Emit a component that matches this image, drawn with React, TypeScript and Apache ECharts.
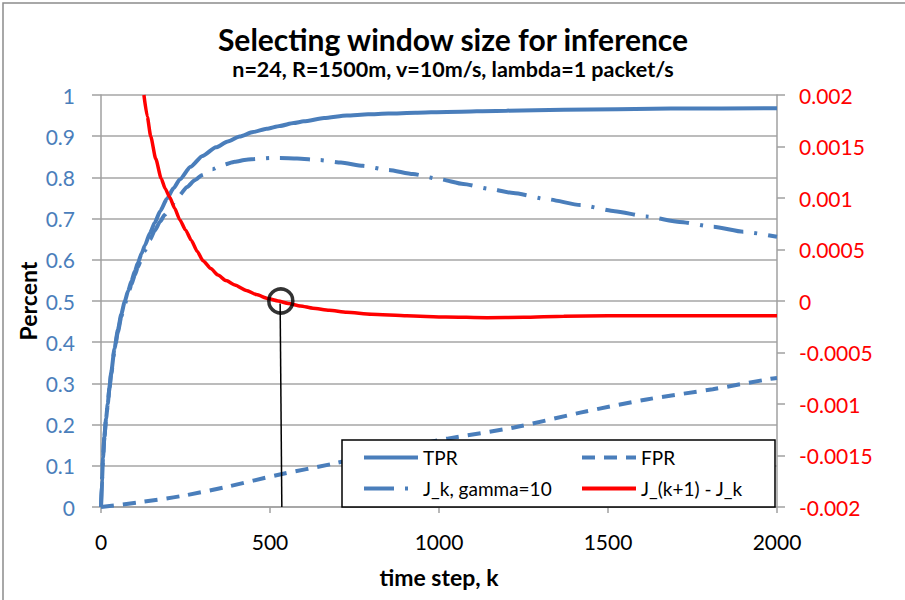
import React, { useEffect, useRef } from "react";
import * as echarts from "echarts";

const titleText = "Selecting window size for inference";
const subtitleText = "n=24, R=1500m, v=10m/s, lambda=1 packet/s";
const xName = "time step, k";
const yName = "Percent";

const seriesNames = ["TPR", "FPR", "J_k, gamma=10", "J_(k+1) - J_k"];

const tprK = [0, 3, 6, 10, 15, 20, 25, 30, 40, 50, 60, 70, 80, 90, 100, 109, 120, 130, 145, 159, 175, 195, 215, 233, 265, 300, 340, 375, 410, 450, 490, 529, 570, 600, 660, 727, 790, 850, 930, 1023, 1200, 1369, 1686, 2000];
const tprV = [0, 0.065, 0.12, 0.17, 0.215, 0.25, 0.29, 0.325, 0.385, 0.43, 0.468, 0.498, 0.524, 0.548, 0.572, 0.592, 0.615, 0.635, 0.665, 0.69, 0.718, 0.748, 0.774, 0.795, 0.826, 0.852, 0.873, 0.887, 0.899, 0.91, 0.918, 0.925, 0.932, 0.936, 0.944, 0.95, 0.953, 0.955, 0.957, 0.959, 0.962, 0.964, 0.967, 0.968];

const fprK = [0, 110, 241, 372, 529, 686, 895, 1025, 1222, 1418, 1614, 1810, 1980, 2000];
const fprV = [0, 0.011, 0.027, 0.049, 0.079, 0.105, 0.144, 0.166, 0.193, 0.229, 0.261, 0.286, 0.311, 0.313];

const jK = [0, 3, 6, 10, 15, 20, 25, 30, 40, 50, 60, 70, 80, 90, 100, 109, 120, 129, 145, 159, 175, 188, 210, 230, 255, 277, 300, 330, 360, 396, 430, 460, 500, 529, 580, 648, 710, 775, 850, 923, 1000, 1072, 1150, 1220, 1320, 1418, 1520, 1614, 1712, 1812, 1900, 2000];
const jV = [0, 0.065, 0.12, 0.17, 0.214, 0.249, 0.288, 0.322, 0.381, 0.425, 0.462, 0.491, 0.517, 0.54, 0.563, 0.582, 0.603, 0.621, 0.649, 0.671, 0.693, 0.709, 0.734, 0.755, 0.777, 0.793, 0.806, 0.82, 0.83, 0.838, 0.843, 0.845, 0.847, 0.847, 0.846, 0.842, 0.836, 0.828, 0.818, 0.808, 0.796, 0.784, 0.772, 0.762, 0.747, 0.733, 0.718, 0.705, 0.692, 0.68, 0.668, 0.656];

const diffK = [127, 137, 147, 162, 178, 190, 203, 218, 233, 250, 267, 285, 302, 325, 346, 370, 396, 430, 460, 494, 524, 554, 590, 627, 675, 727, 800, 905, 1020, 1142, 1250, 1369, 1500, 1676, 1850, 2000];
const diffV = [0.002, 0.00179, 0.0016, 0.00138, 0.00119, 0.00109, 0.00101, 0.0009, 0.00079, 0.00069, 0.00059, 0.00048, 0.00039, 0.000315, 0.000252, 0.000198, 0.000156, 0.000103, 0.000062, 0.000024, 0, -0.000024, -0.000048, -0.00007, -0.00009, -0.00011, -0.000128, -0.000144, -0.000155, -0.000162, -0.000158, -0.000148, -0.000144, -0.000142, -0.000142, -0.000142];

const markerPoint = [532, 0.5];
const markerLine = [
  [530, 0.494],
  [535, 0],
];

const zip = (ks: number[], vs: number[]) => ks.map((k, i) => [k, vs[i]]);

const BLUE = "#4a7ebb";
const RED = "#ff0000";
const FONT = "Lato, 'Open Sans', sans-serif";

export default function App() {
  const ref = useRef<HTMLDivElement>(null);
  useEffect(() => {
    document.body.style.margin = "0";
    if (!ref.current) return;
    const chart = echarts.init(ref.current, undefined, { renderer: "svg" });
    const legendCommon = {
      orient: "vertical",
      top: 443,
      itemWidth: 54,
      itemHeight: 10,
      itemGap: 12,
      z: 6,
      itemStyle: { opacity: 0 },
      lineStyle: { width: 4 },
      textStyle: { fontSize: 19, color: "#000", fontFamily: FONT },
    };
    chart.setOption({
      animation: false,
      backgroundColor: "#ffffff",
      textStyle: { fontFamily: FONT },
      grid: { left: 101, right: 128, top: 95, bottom: 93, containLabel: false },
      xAxis: {
        type: "value",
        min: 0,
        max: 2000,
        interval: 500,
        axisLine: { lineStyle: { color: "#a0a0a0", width: 1.5 } },
        axisTick: { show: true, length: 6, lineStyle: { color: "#a0a0a0", width: 1.5 } },
        axisLabel: { color: "#000", fontSize: 21, margin: 24, fontFamily: FONT, formatter: (v: number) => String(v) },
        splitLine: { show: false },
      },
      yAxis: [
        {
          type: "value",
          min: 0,
          max: 1,
          interval: 0.1,
          position: "left",
          axisLine: { show: true, lineStyle: { color: "#a0a0a0", width: 1.5 } },
          axisTick: { show: true, length: 9, lineStyle: { color: "#a0a0a0", width: 1.5 } },
          axisLabel: { color: BLUE, fontSize: 21, margin: 26, fontFamily: FONT },
          splitLine: { show: true, lineStyle: { color: "#a6a6a6", width: 1.5 } },
        },
        {
          type: "value",
          min: -0.002,
          max: 0.002,
          interval: 0.0005,
          position: "right",
          axisLine: { show: true, lineStyle: { color: "#a0a0a0", width: 1.5 } },
          axisTick: { show: true, length: 8, lineStyle: { color: "#a0a0a0", width: 1.5 } },
          axisLabel: { color: RED, fontSize: 21, margin: 22, fontFamily: FONT },
          splitLine: { show: false },
        },
      ],
      legend: [
        { ...legendCommon, data: [seriesNames[0], seriesNames[2]], left: 357 },
        { ...legendCommon, data: [seriesNames[1], seriesNames[3]], left: 575 },
      ],
      graphic: [
        {
          type: "rect",
          z: -10,
          silent: true,
          shape: { x: 3, y: 3, width: 920, height: 620 },
          style: { fill: "none", stroke: "#8c8c8c", lineWidth: 1.5 },
        },
        {
          type: "rect",
          z: 5,
          silent: true,
          shape: { x: 342, y: 440, width: 433, height: 67 },
          style: { fill: "#ffffff", stroke: "#000000", lineWidth: 1.5 },
        },
        {
          type: "text",
          x: 453,
          y: 39,
          style: {
            text: titleText,
            font: `bold 30px ${FONT}`,
            fill: "#000",
            textAlign: "center",
            textVerticalAlign: "middle",
          },
        },
        {
          type: "text",
          x: 453,
          y: 69,
          style: {
            text: subtitleText,
            font: `bold 21.5px ${FONT}`,
            fill: "#000",
            textAlign: "center",
            textVerticalAlign: "middle",
          },
        },
        {
          type: "text",
          x: 439,
          y: 577,
          style: {
            text: xName,
            font: `bold 23px ${FONT}`,
            fill: "#000",
            textAlign: "center",
            textVerticalAlign: "middle",
          },
        },
        {
          type: "text",
          x: 28,
          y: 301,
          rotation: Math.PI / 2,
          style: {
            text: yName,
            font: `bold 23px ${FONT}`,
            fill: "#000",
            textAlign: "center",
            textVerticalAlign: "middle",
          },
        },
      ],
      series: [
        {
          name: seriesNames[0],
          type: "line",
          yAxisIndex: 0,
          data: zip(tprK, tprV),
          smooth: 0.2,
          smoothMonotone: "x",
          symbol: "none",
          lineStyle: { color: BLUE, width: 4 },
          itemStyle: { color: BLUE },
          z: 2,
        },
        {
          name: seriesNames[1],
          type: "line",
          yAxisIndex: 0,
          data: zip(fprK, fprV),
          smooth: 0.3,
          symbol: "none",
          lineStyle: { color: BLUE, width: 4, type: [13, 9] },
          itemStyle: { color: BLUE },
          z: 2,
        },
        {
          name: seriesNames[2],
          type: "line",
          yAxisIndex: 0,
          data: zip(jK, jV),
          smooth: 0.2,
          smoothMonotone: "x",
          symbol: "none",
          lineStyle: { color: BLUE, width: 4, type: [30, 11, 3, 11] },
          itemStyle: { color: BLUE },
          z: 2,
        },
        {
          name: seriesNames[3],
          type: "line",
          yAxisIndex: 1,
          data: zip(diffK, diffV),
          smooth: 0.2,
          smoothMonotone: "x",
          symbol: "none",
          lineStyle: { color: RED, width: 3.5 },
          itemStyle: { color: RED },
          z: 3,
        },
        {
          name: "markerLine",
          type: "line",
          yAxisIndex: 0,
          data: markerLine,
          symbol: "none",
          lineStyle: { color: "#000", width: 1.5 },
          z: 4,
        },
        {
          name: "markerCircle",
          type: "scatter",
          yAxisIndex: 0,
          data: [markerPoint],
          symbol: "circle",
          symbolSize: 24,
          itemStyle: { color: "rgba(0,0,0,0)", borderColor: "#000", borderWidth: 3.5 },
          z: 4,
        },
      ],
    });
    return () => chart.dispose();
  }, []);
  return (
    <div
      ref={ref}
      style={{ position: "fixed", left: 0, top: 0, width: 905, height: 600 }}
    />
  );
}
